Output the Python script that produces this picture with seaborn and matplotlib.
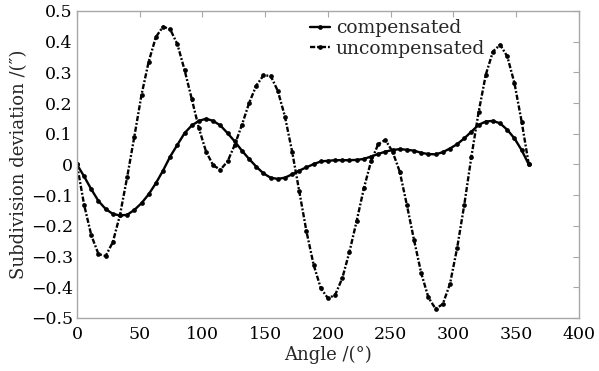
import numpy as np
import pandas as pd
import matplotlib
matplotlib.use("Agg")
import matplotlib.pyplot as plt
import seaborn as sns

# ---- data ----
angles = np.linspace(0, 360, 64)

compensated = [
    0.000, -0.039, -0.081, -0.119, -0.145, -0.161, -0.166, -0.164, -0.148, -0.126,
    -0.097, -0.061, -0.020, 0.026, 0.064, 0.102, 0.127, 0.142, 0.149, 0.142,
    0.127, 0.102, 0.075, 0.045, 0.018, -0.007, -0.029, -0.043, -0.047, -0.043,
    -0.032, -0.020, -0.009, 0.001, 0.010, 0.012, 0.014, 0.014, 0.014, 0.015,
    0.018, 0.026, 0.034, 0.042, 0.047, 0.050, 0.048, 0.045, 0.038, 0.034,
    0.033, 0.040, 0.052, 0.066, 0.085, 0.107, 0.129, 0.140, 0.142, 0.134,
    0.113, 0.085, 0.047, 0.000,
]

uncompensated = [
    0.000, -0.132, -0.231, -0.292, -0.298, -0.253, -0.164, -0.041, 0.091, 0.227,
    0.335, 0.415, 0.449, 0.440, 0.392, 0.308, 0.214, 0.118, 0.042, -0.003,
    -0.017, 0.010, 0.064, 0.129, 0.200, 0.257, 0.290, 0.289, 0.240, 0.156,
    0.042, -0.088, -0.218, -0.327, -0.403, -0.436, -0.425, -0.370, -0.284, -0.184,
    -0.078, 0.010, 0.066, 0.080, 0.042, -0.023, -0.132, -0.246, -0.354, -0.433,
    -0.470, -0.455, -0.390, -0.273, -0.132, 0.026, 0.170, 0.292, 0.368, 0.390,
    0.352, 0.265, 0.140, 0.000,
]

series_names = ["compensated", "uncompensated"]
x_ticks = [0, 50, 100, 150, 200, 250, 300, 350, 400]
y_ticks = [-0.5, -0.4, -0.3, -0.2, -0.1, 0, 0.1, 0.2, 0.3, 0.4, 0.5]
y_tick_labels = ["\u22120.5", "\u22120.4", "\u22120.3", "\u22120.2", "\u22120.1", "0",
                 "0.1", "0.2", "0.3", "0.4", "0.5"]

df = pd.DataFrame({
    "angle": np.concatenate([angles, angles]),
    "value": np.concatenate([compensated, uncompensated]),
    "series": [series_names[0]] * len(angles) + [series_names[1]] * len(angles),
})

sns.set_style("white")
plt.rcParams["font.family"] = ["DejaVu Serif"]

fig = plt.figure(figsize=(5.99, 3.71), dpi=100)
ax = fig.add_axes([0.1285, 0.1429, 0.8381, 0.8275])

sns.lineplot(
    data=df, x="angle", y="value", hue="series", style="series",
    palette={"compensated": "black", "uncompensated": "black"},
    dashes={"compensated": "", "uncompensated": (2.2, 0.8, 0.8, 0.8)},
    markers={"compensated": "o", "uncompensated": "o"},
    markersize=3.4, markeredgewidth=0, ax=ax, legend=True,
)
for ln in ax.lines:
    ln.set_linewidth(1.7)

ax.set_xlim(0, 400)
ax.set_ylim(-0.5, 0.5)
ax.set_xticks(x_ticks)
ax.set_yticks(y_ticks)
ax.set_yticklabels(y_tick_labels)
ax.set_xlabel("Angle /(°)", fontsize=13, labelpad=2)
ax.set_ylabel("Subdivision deviation /(\u2033)", fontsize=13, labelpad=2)

gray = "#a8a8a8"
for s in ax.spines.values():
    s.set_visible(True)
    s.set_color(gray)
    s.set_linewidth(1.0)
ax.tick_params(direction="in", length=4, width=0.8, color=gray,
               top=True, right=True, labelsize=12.5, labelcolor="black")
ax.tick_params(axis="x", pad=6)
ax.tick_params(axis="y", pad=3)

for ln in ax.get_legend().get_lines() if ax.get_legend() else []:
    pass
leg = ax.legend(loc="upper left", bbox_to_anchor=(0.441, 1.01), frameon=False,
                fontsize=13.5, handlelength=1.1, handletextpad=0.3,
                labelspacing=0.15, borderaxespad=0.2)
for h in leg.legend_handles:
    h.set_linewidth(1.7)

fig.savefig("out.png", dpi=100)
